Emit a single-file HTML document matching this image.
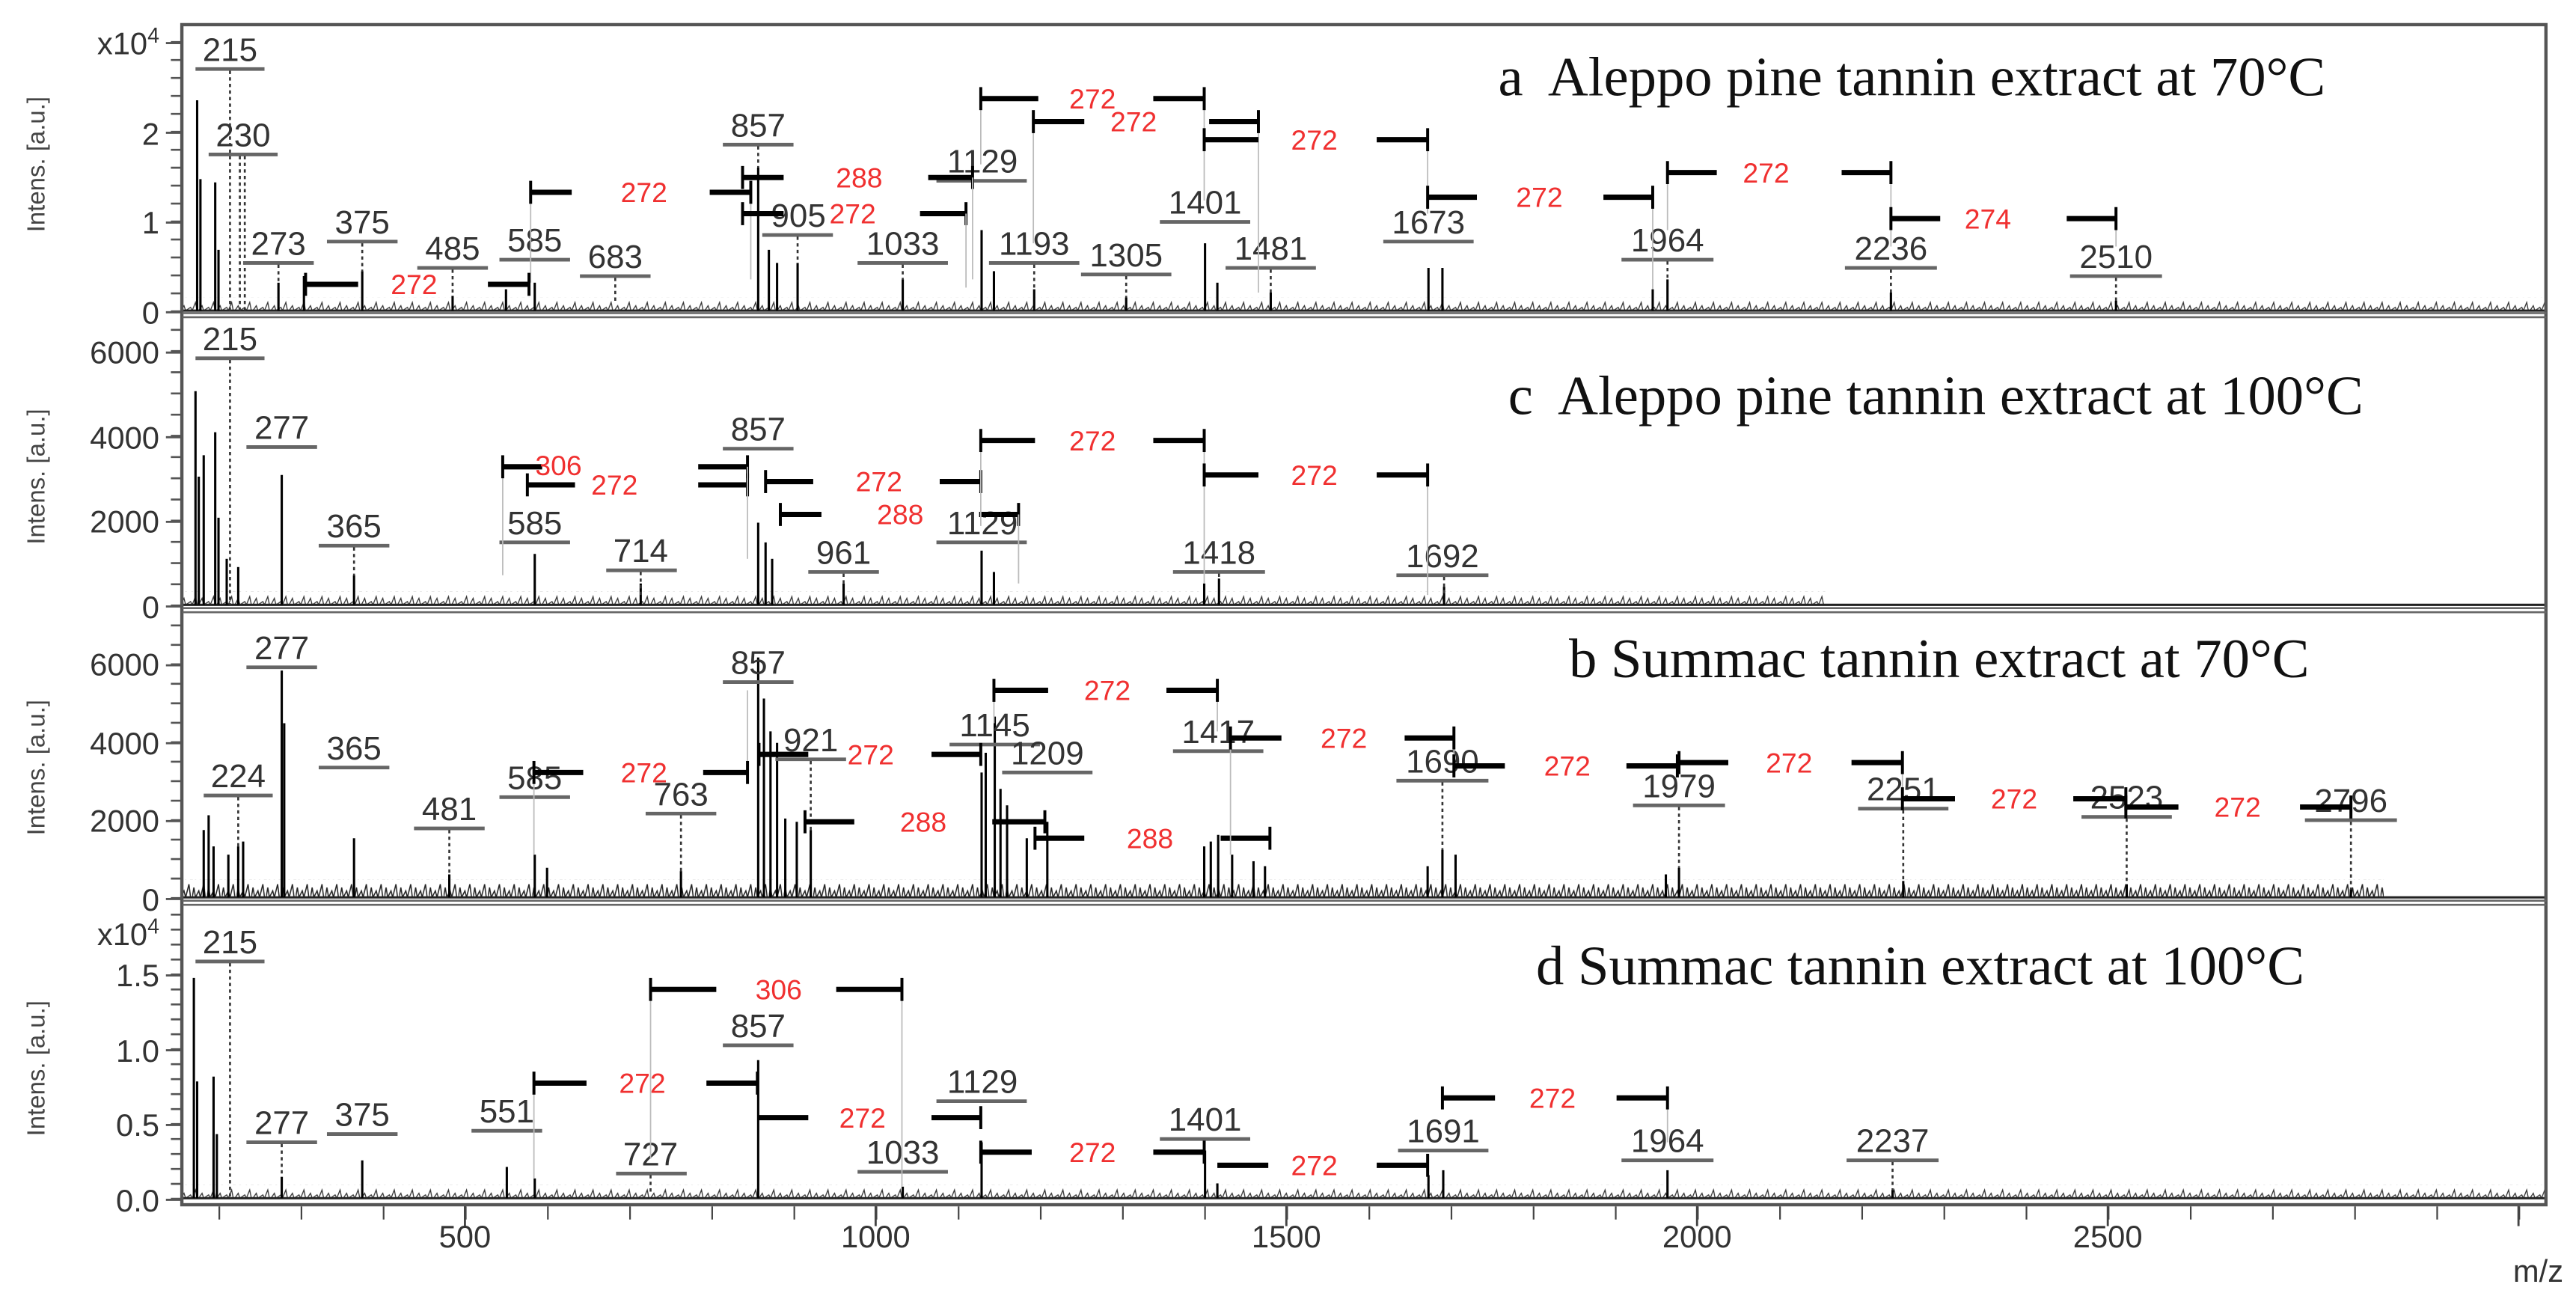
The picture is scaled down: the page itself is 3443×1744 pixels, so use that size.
<!DOCTYPE html>
<html><head><meta charset="utf-8"><style>
html,body{margin:0;padding:0;background:#fff;}
svg{display:block;}
.pl{font-family:"Liberation Sans",Arial,sans-serif;font-size:20px;fill:#333;text-anchor:middle;}
.rl{font-family:"Liberation Sans",Arial,sans-serif;font-size:17px;fill:#f03030;text-anchor:middle;}
.tk{font-family:"Liberation Sans",Arial,sans-serif;font-size:19px;fill:#333;text-anchor:end;}
.ax{font-family:"Liberation Sans",Arial,sans-serif;font-size:19px;fill:#333;text-anchor:middle;}
.yl{font-family:"Liberation Sans",Arial,sans-serif;font-size:15px;fill:#444;text-anchor:middle;}
.tt{font-family:"Liberation Serif","Times New Roman",serif;font-size:34px;fill:#111;}
.ub{stroke:#666;stroke-width:2.2;}
.dt{stroke:#333;stroke-width:1.2;stroke-dasharray:2 2;}
.pk{stroke:#000;stroke-width:1.4;}
.br{stroke:#000;stroke-width:3.2;}
.bt{stroke:#000;stroke-width:1.8;}
.gl{stroke:#bbb;stroke-width:0.8;}
</style></head><body>
<svg width="3443" height="1744" viewBox="0 0 1568 794" preserveAspectRatio="none" xmlns="http://www.w3.org/2000/svg">
<defs>
<pattern id="na" x="0" y="181" width="11" height="8" patternUnits="userSpaceOnUse">
<polyline points="0,8 2,5 3,8 6,6 7,8 9,3 10,8 11,8" fill="none" stroke="#333" stroke-width="0.6"/>
</pattern>
<pattern id="nc" x="0" y="360" width="11" height="8" patternUnits="userSpaceOnUse">
<polyline points="0,8 2,4 3,8 6,6 7,8 9,3 10,8 11,8" fill="none" stroke="#333" stroke-width="0.6"/>
</pattern>
<pattern id="nb" x="0" y="535" width="9" height="11" patternUnits="userSpaceOnUse">
<polyline points="0,11 1,5 2,11 4,7 5,11 7,3 8,11 9,11" fill="none" stroke="#222" stroke-width="0.7"/>
</pattern>
<pattern id="nd" x="0" y="721" width="11" height="8" patternUnits="userSpaceOnUse">
<polyline points="0,8 2,5 3,8 6,6 7,8 9,3 10,8 11,8" fill="none" stroke="#333" stroke-width="0.6"/>
</pattern>
</defs>
<rect x="0" y="0" width="1568" height="794" fill="#fff"/>

<text class="yl" transform="translate(27,100) rotate(-90)">Intens. [a.u.]</text>
<text class="yl" transform="translate(27,290) rotate(-90)">Intens. [a.u.]</text>
<text class="yl" transform="translate(27,467) rotate(-90)">Intens. [a.u.]</text>
<text class="yl" transform="translate(27,650) rotate(-90)">Intens. [a.u.]</text>

<g stroke="#555">
<line x1="107" y1="190" x2="107" y2="18" stroke-width="6" stroke-dasharray="1.2 9.72"/>
<line x1="107" y1="369" x2="107" y2="195" stroke-width="6" stroke-dasharray="1.2 11.7"/>
<line x1="107" y1="547" x2="107" y2="374" stroke-width="6" stroke-dasharray="1.2 10.65"/>
<line x1="107" y1="730" x2="107" y2="555" stroke-width="6" stroke-dasharray="1.2 7.9"/>
<g stroke-width="1.3">
<line x1="101" y1="190" x2="111" y2="190"/><line x1="101" y1="135.4" x2="111" y2="135.4"/><line x1="101" y1="80.8" x2="111" y2="80.8"/><line x1="101" y1="26.2" x2="111" y2="26.2"/>
<line x1="101" y1="369" x2="111" y2="369"/><line x1="101" y1="317.5" x2="111" y2="317.5"/><line x1="101" y1="266" x2="111" y2="266"/><line x1="101" y1="214.5" x2="111" y2="214.5"/>
<line x1="101" y1="547" x2="111" y2="547"/><line x1="101" y1="499.6" x2="111" y2="499.6"/><line x1="101" y1="452.2" x2="111" y2="452.2"/><line x1="101" y1="404.8" x2="111" y2="404.8"/>
<line x1="101" y1="730" x2="111" y2="730"/><line x1="101" y1="684.5" x2="111" y2="684.5"/><line x1="101" y1="639" x2="111" y2="639"/><line x1="101" y1="593.5" x2="111" y2="593.5"/>
</g></g>
<text class="tk" x="97" y="33">x10<tspan font-size="13" dy="-7">4</tspan></text>
<text class="tk" x="97" y="88">2</text><text class="tk" x="97" y="142">1</text><text class="tk" x="97" y="197">0</text>
<text class="tk" x="97" y="221">6000</text><text class="tk" x="97" y="273">4000</text><text class="tk" x="97" y="324">2000</text><text class="tk" x="97" y="376">0</text>
<text class="tk" x="97" y="411">6000</text><text class="tk" x="97" y="459">4000</text><text class="tk" x="97" y="506">2000</text><text class="tk" x="97" y="554">0</text>
<text class="tk" x="97" y="575">x10<tspan font-size="13" dy="-7">4</tspan></text>
<text class="tk" x="97" y="600">1.5</text><text class="tk" x="97" y="646">1.0</text><text class="tk" x="97" y="691">0.5</text><text class="tk" x="97" y="737">0.0</text>

<line x1="133" y1="738" x2="1550" y2="738" stroke="#444" stroke-width="8" stroke-dasharray="1 49"/>
<g stroke="#444" stroke-width="1.3">
<line x1="283" y1="733" x2="283" y2="746"/><line x1="533" y1="733" x2="533" y2="746"/><line x1="783" y1="733" x2="783" y2="746"/><line x1="1033" y1="733" x2="1033" y2="746"/><line x1="1283" y1="733" x2="1283" y2="746"/><line x1="1533" y1="733" x2="1533" y2="746"/>
</g>
<text class="ax" x="283" y="759">500</text><text class="ax" x="533" y="759">1000</text><text class="ax" x="783" y="759">1500</text><text class="ax" x="1033" y="759">2000</text><text class="ax" x="1283" y="759">2500</text>
<text class="ax" x="1545" y="780" font-size="15">m/z</text>

<!-- noise strips -->
<rect x="111" y="181" width="1439" height="8" fill="url(#na)"/>
<rect x="111" y="360" width="1000" height="8" fill="url(#nc)"/>
<rect x="111" y="535" width="1340" height="11" fill="url(#nb)"/>
<rect x="111" y="721" width="1439" height="8" fill="url(#nd)"/>
<g stroke="#222" stroke-width="1.4">
<line x1="111" y1="189" x2="1550" y2="189"/>
<line x1="111" y1="368" x2="1550" y2="368"/>
<line x1="111" y1="546" x2="1550" y2="546"/>
<line x1="111" y1="729" x2="1550" y2="729"/>
</g>

<rect x="110.7" y="15" width="1439" height="718" fill="none" stroke="#555" stroke-width="2"/>
<g stroke="#666" stroke-width="1.2">
<line x1="111" y1="190.5" x2="1550" y2="190.5"/><line x1="111" y1="193" x2="1550" y2="193"/>
<line x1="111" y1="370" x2="1550" y2="370"/><line x1="111" y1="372.5" x2="1550" y2="372.5"/>
<line x1="111" y1="548" x2="1550" y2="548"/><line x1="111" y1="550.5" x2="1550" y2="550.5"/>
</g>

<text class="tt" x="912" y="58">a&#160; Aleppo pine tannin extract at 70°C</text>
<text class="tt" x="918" y="252">c&#160; Aleppo pine tannin extract at 100°C</text>
<text class="tt" x="955" y="412">b Summac tannin extract at 70°C</text>
<text class="tt" x="935" y="599">d Summac tannin extract at 100°C</text>

<!-- PANEL A -->
<g class="pk">
<line x1="120" y1="189" x2="120" y2="61"/><line x1="122" y1="189" x2="122" y2="109"/>
<line x1="131" y1="189" x2="131" y2="111"/><line x1="133" y1="189" x2="133" y2="152"/>
<line x1="169.5" y1="189" x2="169.5" y2="172"/><line x1="185" y1="189" x2="185" y2="168"/><line x1="220.5" y1="189" x2="220.5" y2="165"/>
<line x1="275.5" y1="189" x2="275.5" y2="180"/><line x1="308" y1="189" x2="308" y2="176"/><line x1="325.5" y1="189" x2="325.5" y2="172"/>
<line x1="461.5" y1="189" x2="461.5" y2="102"/><line x1="468" y1="189" x2="468" y2="152"/><line x1="473" y1="189" x2="473" y2="160"/><line x1="485.5" y1="189" x2="485.5" y2="160"/>
<line x1="549.5" y1="189" x2="549.5" y2="170"/><line x1="597.5" y1="189" x2="597.5" y2="140"/><line x1="605" y1="189" x2="605" y2="165"/><line x1="629.5" y1="189" x2="629.5" y2="176"/>
<line x1="685.5" y1="189" x2="685.5" y2="181"/><line x1="733.5" y1="189" x2="733.5" y2="148"/><line x1="741" y1="189" x2="741" y2="172"/><line x1="773.5" y1="189" x2="773.5" y2="178"/>
<line x1="869.5" y1="189" x2="869.5" y2="163"/><line x1="878" y1="189" x2="878" y2="163"/><line x1="1006" y1="189" x2="1006" y2="176"/><line x1="1015" y1="189" x2="1015" y2="170"/>
<line x1="1151" y1="189" x2="1151" y2="178"/><line x1="1288" y1="189" x2="1288" y2="183"/>
</g>
<g>
<text class="pl" x="140" y="37">215</text><line class="ub" x1="119" y1="42" x2="161" y2="42"/><line class="dt" x1="140" y1="43" x2="140" y2="189"/>
<text class="pl" x="148" y="89">230</text><line class="ub" x1="127" y1="94" x2="169" y2="94"/><line class="dt" x1="146" y1="95" x2="146" y2="189"/><line class="dt" x1="149" y1="95" x2="149" y2="189"/>
<text class="pl" x="169.5" y="155">273</text><line class="ub" x1="148" y1="160" x2="191" y2="160"/><line class="dt" x1="169.5" y1="161" x2="169.5" y2="172"/>
<text class="pl" x="220.5" y="142">375</text><line class="ub" x1="199" y1="147" x2="242" y2="147"/><line class="dt" x1="220.5" y1="148" x2="220.5" y2="165"/>
<text class="pl" x="275.5" y="158">485</text><line class="ub" x1="254" y1="163" x2="297" y2="163"/><line class="dt" x1="275.5" y1="164" x2="275.5" y2="180"/>
<text class="pl" x="325.5" y="153">585</text><line class="ub" x1="304" y1="158" x2="347" y2="158"/>
<text class="pl" x="374.5" y="163">683</text><line class="ub" x1="353" y1="168" x2="396" y2="168"/><line class="dt" x1="374.5" y1="169" x2="374.5" y2="183"/>
<text class="pl" x="461.5" y="83">857</text><line class="ub" x1="440" y1="88" x2="483" y2="88"/><line class="dt" x1="461.5" y1="89" x2="461.5" y2="102"/>
<text class="pl" x="486" y="138">905</text><line class="ub" x1="464" y1="143" x2="507" y2="143"/><line class="dt" x1="485.5" y1="144" x2="485.5" y2="160"/>
<text class="pl" x="549.5" y="155">1033</text><line class="ub" x1="522" y1="160" x2="577" y2="160"/><line class="dt" x1="549.5" y1="161" x2="549.5" y2="170"/>
<text class="pl" x="598" y="105">1129</text><line class="ub" x1="570" y1="110" x2="625" y2="110"/>
<text class="pl" x="629.5" y="155">1193</text><line class="ub" x1="602" y1="160" x2="657" y2="160"/><line class="dt" x1="629.5" y1="161" x2="629.5" y2="176"/>
<text class="pl" x="685.5" y="162">1305</text><line class="ub" x1="658" y1="167" x2="713" y2="167"/><line class="dt" x1="685.5" y1="168" x2="685.5" y2="181"/>
<text class="pl" x="733.5" y="130">1401</text><line class="ub" x1="706" y1="135" x2="761" y2="135"/>
<text class="pl" x="773.5" y="158">1481</text><line class="ub" x1="746" y1="163" x2="801" y2="163"/><line class="dt" x1="773.5" y1="164" x2="773.5" y2="178"/>
<text class="pl" x="869.5" y="142">1673</text><line class="ub" x1="842" y1="147" x2="897" y2="147"/>
<text class="pl" x="1015" y="153">1964</text><line class="ub" x1="987" y1="158" x2="1043" y2="158"/><line class="dt" x1="1015" y1="159" x2="1015" y2="170"/>
<text class="pl" x="1151" y="158">2236</text><line class="ub" x1="1123" y1="163" x2="1179" y2="163"/><line class="dt" x1="1151" y1="164" x2="1151" y2="178"/>
<text class="pl" x="1288" y="163">2510</text><line class="ub" x1="1260" y1="168" x2="1316" y2="168"/><line class="dt" x1="1288" y1="169" x2="1288" y2="183"/>
</g>
<g>
<line class="gl" x1="323" y1="117" x2="323" y2="172"/><line class="gl" x1="457" y1="117" x2="457" y2="170"/>
<line class="bt" x1="323" y1="110" x2="323" y2="124"/><line class="br" x1="323" y1="117" x2="348" y2="117"/><text class="rl" x="392" y="123">272</text><line class="br" x1="432" y1="117" x2="457" y2="117"/><line class="bt" x1="457" y1="110" x2="457" y2="124"/>
<line class="bt" x1="452" y1="101" x2="452" y2="115"/><line class="br" x1="452" y1="108" x2="477" y2="108"/><text class="rl" x="523" y="114">288</text><line class="br" x1="565" y1="108" x2="592" y2="108"/><line class="bt" x1="592" y1="101" x2="592" y2="115"/>
<line class="gl" x1="592" y1="108" x2="592" y2="170"/>
<line class="bt" x1="452" y1="123" x2="452" y2="137"/><line class="br" x1="452" y1="130" x2="477" y2="130"/><text class="rl" x="519" y="136">272</text><line class="br" x1="560" y1="130" x2="588" y2="130"/><line class="bt" x1="588" y1="123" x2="588" y2="137"/>
<line class="gl" x1="588" y1="130" x2="588" y2="175"/>
<line class="gl" x1="597" y1="60" x2="597" y2="100"/><line class="gl" x1="733" y1="60" x2="733" y2="122"/>
<line class="bt" x1="597" y1="53" x2="597" y2="67"/><line class="br" x1="597" y1="60" x2="632" y2="60"/><text class="rl" x="665" y="66">272</text><line class="br" x1="702" y1="60" x2="733" y2="60"/><line class="bt" x1="733" y1="53" x2="733" y2="67"/>
<line class="gl" x1="629" y1="74" x2="629" y2="148"/><line class="gl" x1="766" y1="74" x2="766" y2="178"/>
<line class="bt" x1="629" y1="67" x2="629" y2="81"/><line class="br" x1="629" y1="74" x2="660" y2="74"/><text class="rl" x="690" y="80">272</text><line class="br" x1="736" y1="74" x2="766" y2="74"/><line class="bt" x1="766" y1="67" x2="766" y2="81"/>
<line class="gl" x1="869" y1="85" x2="869" y2="130"/>
<line class="bt" x1="733" y1="78" x2="733" y2="92"/><line class="br" x1="733" y1="85" x2="766" y2="85"/><text class="rl" x="800" y="91">272</text><line class="br" x1="838" y1="85" x2="869" y2="85"/><line class="bt" x1="869" y1="78" x2="869" y2="92"/>
<line class="gl" x1="1006" y1="120" x2="1006" y2="176"/>
<line class="bt" x1="869" y1="113" x2="869" y2="127"/><line class="br" x1="869" y1="120" x2="899" y2="120"/><text class="rl" x="937" y="126">272</text><line class="br" x1="976" y1="120" x2="1006" y2="120"/><line class="bt" x1="1006" y1="113" x2="1006" y2="127"/>
<line class="gl" x1="1015" y1="105" x2="1015" y2="140"/><line class="gl" x1="1151" y1="105" x2="1151" y2="150"/>
<line class="bt" x1="1015" y1="98" x2="1015" y2="112"/><line class="br" x1="1015" y1="105" x2="1045" y2="105"/><text class="rl" x="1075" y="111">272</text><line class="br" x1="1121" y1="105" x2="1151" y2="105"/><line class="bt" x1="1151" y1="98" x2="1151" y2="112"/>
<line class="gl" x1="1288" y1="133" x2="1288" y2="150"/>
<line class="bt" x1="1151" y1="126" x2="1151" y2="140"/><line class="br" x1="1151" y1="133" x2="1181" y2="133"/><text class="rl" x="1210" y="139">274</text><line class="br" x1="1258" y1="133" x2="1288" y2="133"/><line class="bt" x1="1288" y1="126" x2="1288" y2="140"/>
<line class="bt" x1="186" y1="166" x2="186" y2="180"/><line class="br" x1="186" y1="173" x2="218" y2="173"/><text class="rl" x="252" y="179">272</text><line class="br" x1="297" y1="173" x2="322" y2="173"/><line class="bt" x1="322" y1="166" x2="322" y2="180"/>
</g>

<!-- PANEL C -->
<g class="pk">
<line x1="119" y1="368" x2="119" y2="238"/><line x1="121" y1="368" x2="121" y2="290"/><line x1="124" y1="368" x2="124" y2="277"/>
<line x1="131" y1="368" x2="131" y2="263"/><line x1="133" y1="368" x2="133" y2="315"/><line x1="138" y1="368" x2="138" y2="340"/><line x1="145" y1="368" x2="145" y2="345"/>
<line x1="171.5" y1="368" x2="171.5" y2="289"/><line x1="215.5" y1="368" x2="215.5" y2="350"/><line x1="325.5" y1="368" x2="325.5" y2="337"/><line x1="390" y1="368" x2="390" y2="355"/>
<line x1="461.5" y1="368" x2="461.5" y2="318"/><line x1="466" y1="368" x2="466" y2="330"/><line x1="470" y1="368" x2="470" y2="340"/><line x1="513.5" y1="368" x2="513.5" y2="355"/>
<line x1="597.5" y1="368" x2="597.5" y2="335"/><line x1="605" y1="368" x2="605" y2="348"/><line x1="733" y1="368" x2="733" y2="355"/><line x1="742" y1="368" x2="742" y2="352"/><line x1="879" y1="368" x2="879" y2="357"/>
</g>
<g>
<text class="pl" x="140" y="213">215</text><line class="ub" x1="119" y1="218" x2="161" y2="218"/><line class="dt" x1="140" y1="219" x2="140" y2="368"/>
<text class="pl" x="171.5" y="267">277</text><line class="ub" x1="150" y1="272" x2="193" y2="272"/>
<text class="pl" x="215.5" y="327">365</text><line class="ub" x1="194" y1="332" x2="237" y2="332"/><line class="dt" x1="215.5" y1="333" x2="215.5" y2="350"/>
<text class="pl" x="325.5" y="325">585</text><line class="ub" x1="304" y1="330" x2="347" y2="330"/>
<text class="pl" x="390" y="342">714</text><line class="ub" x1="369" y1="347" x2="412" y2="347"/><line class="dt" x1="390" y1="348" x2="390" y2="362"/>
<text class="pl" x="461.5" y="268">857</text><line class="ub" x1="440" y1="273" x2="483" y2="273"/>
<text class="pl" x="513.5" y="343">961</text><line class="ub" x1="492" y1="348" x2="535" y2="348"/><line class="dt" x1="513.5" y1="349" x2="513.5" y2="355"/>
<text class="pl" x="598" y="325">1129</text><line class="ub" x1="570" y1="330" x2="625" y2="330"/>
<text class="pl" x="742" y="343">1418</text><line class="ub" x1="714" y1="348" x2="770" y2="348"/><line class="dt" x1="742" y1="349" x2="742" y2="352"/>
<text class="pl" x="878" y="345">1692</text><line class="ub" x1="850" y1="350" x2="906" y2="350"/><line class="dt" x1="879" y1="351" x2="879" y2="362"/>
</g>
<g>
<line class="gl" x1="306" y1="284" x2="306" y2="350"/>
<line class="bt" x1="306" y1="277" x2="306" y2="291"/><line class="br" x1="306" y1="284" x2="330" y2="284"/><text class="rl" x="340" y="289">306</text><line class="br" x1="425" y1="284" x2="455" y2="284"/><line class="bt" x1="455" y1="277" x2="455" y2="291"/>
<line class="bt" x1="321" y1="288" x2="321" y2="302"/><line class="br" x1="321" y1="295" x2="350" y2="295"/><text class="rl" x="374" y="301">272</text><line class="br" x1="425" y1="295" x2="455" y2="295"/><line class="bt" x1="455" y1="288" x2="455" y2="302"/>
<line class="gl" x1="455" y1="284" x2="455" y2="340"/>
<line class="bt" x1="466" y1="286" x2="466" y2="300"/><line class="br" x1="466" y1="293" x2="495" y2="293"/><text class="rl" x="535" y="299">272</text><line class="br" x1="572" y1="293" x2="597" y2="293"/><line class="bt" x1="597" y1="286" x2="597" y2="300"/>
<line class="bt" x1="475" y1="306" x2="475" y2="320"/><line class="br" x1="475" y1="313" x2="500" y2="313"/><text class="rl" x="548" y="319">288</text><line class="br" x1="596" y1="313" x2="620" y2="313"/><line class="bt" x1="620" y1="306" x2="620" y2="320"/>
<line class="gl" x1="620" y1="313" x2="620" y2="355"/>
<line class="gl" x1="597" y1="268" x2="597" y2="320"/><line class="gl" x1="733" y1="268" x2="733" y2="355"/>
<line class="bt" x1="597" y1="261" x2="597" y2="275"/><line class="br" x1="597" y1="268" x2="630" y2="268"/><text class="rl" x="665" y="274">272</text><line class="br" x1="702" y1="268" x2="733" y2="268"/><line class="bt" x1="733" y1="261" x2="733" y2="275"/>
<line class="gl" x1="869" y1="289" x2="869" y2="362"/>
<line class="bt" x1="733" y1="282" x2="733" y2="296"/><line class="br" x1="733" y1="289" x2="766" y2="289"/><text class="rl" x="800" y="295">272</text><line class="br" x1="838" y1="289" x2="869" y2="289"/><line class="bt" x1="869" y1="282" x2="869" y2="296"/>
</g>

<!-- PANEL B -->
<g class="pk">
<line x1="124" y1="546" x2="124" y2="505"/><line x1="127" y1="546" x2="127" y2="496"/><line x1="130" y1="546" x2="130" y2="515"/>
<line x1="139" y1="546" x2="139" y2="520"/><line x1="145" y1="546" x2="145" y2="515"/><line x1="148" y1="546" x2="148" y2="512"/>
<line x1="171.5" y1="546" x2="171.5" y2="408"/><line x1="173" y1="546" x2="173" y2="440"/><line x1="215.5" y1="546" x2="215.5" y2="510"/><line x1="273.5" y1="546" x2="273.5" y2="532"/>
<line x1="325.5" y1="546" x2="325.5" y2="520"/><line x1="333" y1="546" x2="333" y2="528"/><line x1="414.5" y1="546" x2="414.5" y2="530"/>
<line x1="461.5" y1="546" x2="461.5" y2="400"/><line x1="465" y1="546" x2="465" y2="425"/><line x1="469" y1="546" x2="469" y2="445"/><line x1="473" y1="546" x2="473" y2="452"/><line x1="478" y1="546" x2="478" y2="498"/><line x1="485" y1="546" x2="485" y2="500"/><line x1="493.5" y1="546" x2="493.5" y2="505"/>
<line x1="597.5" y1="546" x2="597.5" y2="470"/><line x1="600" y1="546" x2="600" y2="458"/><line x1="605.5" y1="546" x2="605.5" y2="436"/><line x1="609" y1="546" x2="609" y2="480"/><line x1="613" y1="546" x2="613" y2="490"/><line x1="625" y1="546" x2="625" y2="510"/><line x1="637.5" y1="546" x2="637.5" y2="500"/>
<line x1="733" y1="546" x2="733" y2="515"/><line x1="737" y1="546" x2="737" y2="512"/><line x1="741.5" y1="546" x2="741.5" y2="508"/><line x1="750" y1="546" x2="750" y2="520"/><line x1="763" y1="546" x2="763" y2="524"/><line x1="770" y1="546" x2="770" y2="527"/>
<line x1="869" y1="546" x2="869" y2="527"/><line x1="878" y1="546" x2="878" y2="517"/><line x1="886" y1="546" x2="886" y2="520"/>
<line x1="1014" y1="546" x2="1014" y2="532"/><line x1="1022" y1="546" x2="1022" y2="528"/><line x1="1158.5" y1="546" x2="1158.5" y2="536"/><line x1="1294.5" y1="546" x2="1294.5" y2="538"/><line x1="1431" y1="546" x2="1431" y2="541"/>
</g>
<g>
<text class="pl" x="171.5" y="401">277</text><line class="ub" x1="150" y1="406" x2="193" y2="406"/>
<text class="pl" x="145" y="479">224</text><line class="ub" x1="124" y1="484" x2="166" y2="484"/><line class="dt" x1="145" y1="485" x2="145" y2="515"/>
<text class="pl" x="215.5" y="462">365</text><line class="ub" x1="194" y1="467" x2="237" y2="467"/>
<text class="pl" x="273.5" y="499">481</text><line class="ub" x1="252" y1="504" x2="295" y2="504"/><line class="dt" x1="273.5" y1="505" x2="273.5" y2="532"/>
<text class="pl" x="325.5" y="480">585</text><line class="ub" x1="304" y1="485" x2="347" y2="485"/>
<text class="pl" x="414.5" y="490">763</text><line class="ub" x1="393" y1="495" x2="436" y2="495"/><line class="dt" x1="414.5" y1="496" x2="414.5" y2="530"/>
<text class="pl" x="461.5" y="410">857</text><line class="ub" x1="440" y1="415" x2="483" y2="415"/>
<text class="pl" x="493.5" y="457">921</text><line class="ub" x1="472" y1="462" x2="515" y2="462"/><line class="dt" x1="493.5" y1="463" x2="493.5" y2="505"/>
<text class="pl" x="605.5" y="448">1145</text><line class="ub" x1="578" y1="453" x2="633" y2="453"/>
<text class="pl" x="637.5" y="465">1209</text><line class="ub" x1="610" y1="470" x2="665" y2="470"/>
<text class="pl" x="741.5" y="452">1417</text><line class="ub" x1="714" y1="457" x2="769" y2="457"/>
<text class="pl" x="878" y="470">1690</text><line class="ub" x1="850" y1="475" x2="906" y2="475"/><line class="dt" x1="878" y1="476" x2="878" y2="517"/>
<text class="pl" x="1022" y="485">1979</text><line class="ub" x1="994" y1="490" x2="1050" y2="490"/><line class="dt" x1="1022" y1="491" x2="1022" y2="528"/>
<text class="pl" x="1158.5" y="487">2251</text><line class="ub" x1="1131" y1="492" x2="1186" y2="492"/><line class="dt" x1="1158.5" y1="493" x2="1158.5" y2="536"/>
<text class="pl" x="1294.5" y="492">2523</text><line class="ub" x1="1267" y1="497" x2="1322" y2="497"/><line class="dt" x1="1294.5" y1="498" x2="1294.5" y2="538"/>
<text class="pl" x="1431" y="494">2796</text><line class="ub" x1="1403" y1="499" x2="1459" y2="499"/><line class="dt" x1="1431" y1="500" x2="1431" y2="541"/>
</g>
<g>
<line class="gl" x1="325" y1="470" x2="325" y2="520"/><line class="gl" x1="455" y1="470" x2="455" y2="420"/>
<line class="bt" x1="325" y1="463" x2="325" y2="477"/><line class="br" x1="325" y1="470" x2="355" y2="470"/><text class="rl" x="392" y="476">272</text><line class="br" x1="428" y1="470" x2="455" y2="470"/><line class="bt" x1="455" y1="463" x2="455" y2="477"/>
<line class="bt" x1="462" y1="452" x2="462" y2="466"/><line class="br" x1="462" y1="459" x2="492" y2="459"/><text class="rl" x="530" y="465">272</text><line class="br" x1="567" y1="459" x2="597" y2="459"/><line class="bt" x1="597" y1="452" x2="597" y2="466"/>
<line class="bt" x1="490" y1="493" x2="490" y2="507"/><line class="br" x1="490" y1="500" x2="520" y2="500"/><text class="rl" x="562" y="506">288</text><line class="br" x1="604" y1="500" x2="636" y2="500"/><line class="bt" x1="636" y1="493" x2="636" y2="507"/>
<line class="bt" x1="630" y1="503" x2="630" y2="517"/><line class="br" x1="630" y1="510" x2="660" y2="510"/><text class="rl" x="700" y="516">288</text><line class="br" x1="743" y1="510" x2="773" y2="510"/><line class="bt" x1="773" y1="503" x2="773" y2="517"/>
<line class="gl" x1="605" y1="420" x2="605" y2="440"/><line class="gl" x1="741" y1="420" x2="741" y2="445"/>
<line class="bt" x1="605" y1="413" x2="605" y2="427"/><line class="br" x1="605" y1="420" x2="638" y2="420"/><text class="rl" x="674" y="426">272</text><line class="br" x1="710" y1="420" x2="741" y2="420"/><line class="bt" x1="741" y1="413" x2="741" y2="427"/>
<line class="gl" x1="749" y1="449" x2="749" y2="520"/><line class="gl" x1="885" y1="449" x2="885" y2="465"/>
<line class="bt" x1="749" y1="442" x2="749" y2="456"/><line class="br" x1="749" y1="449" x2="780" y2="449"/><text class="rl" x="818" y="455">272</text><line class="br" x1="855" y1="449" x2="885" y2="449"/><line class="bt" x1="885" y1="442" x2="885" y2="456"/>
<line class="bt" x1="885" y1="459" x2="885" y2="473"/><line class="br" x1="885" y1="466" x2="916" y2="466"/><text class="rl" x="954" y="472">272</text><line class="br" x1="990" y1="466" x2="1021" y2="466"/><line class="bt" x1="1021" y1="459" x2="1021" y2="473"/>
<line class="gl" x1="1158" y1="464" x2="1158" y2="486"/>
<line class="bt" x1="1022" y1="457" x2="1022" y2="471"/><line class="br" x1="1022" y1="464" x2="1052" y2="464"/><text class="rl" x="1089" y="470">272</text><line class="br" x1="1127" y1="464" x2="1158" y2="464"/><line class="bt" x1="1158" y1="457" x2="1158" y2="471"/>
<line class="bt" x1="1158" y1="479" x2="1158" y2="493"/><line class="br" x1="1158" y1="486" x2="1190" y2="486"/><text class="rl" x="1226" y="492">272</text><line class="br" x1="1262" y1="486" x2="1294" y2="486"/><line class="bt" x1="1294" y1="479" x2="1294" y2="493"/>
<line class="bt" x1="1294" y1="484" x2="1294" y2="498"/><line class="br" x1="1294" y1="491" x2="1326" y2="491"/><text class="rl" x="1362" y="497">272</text><line class="br" x1="1400" y1="491" x2="1431" y2="491"/><line class="bt" x1="1431" y1="484" x2="1431" y2="498"/>
</g>

<!-- PANEL D -->
<g class="pk">
<line x1="118" y1="729" x2="118" y2="595"/><line x1="120" y1="729" x2="120" y2="658"/><line x1="130" y1="729" x2="130" y2="655"/><line x1="132" y1="729" x2="132" y2="690"/>
<line x1="171.5" y1="729" x2="171.5" y2="716"/><line x1="220.5" y1="729" x2="220.5" y2="706"/><line x1="308.5" y1="729" x2="308.5" y2="710"/><line x1="325.5" y1="729" x2="325.5" y2="717"/>
<line x1="461.5" y1="729" x2="461.5" y2="645"/><line x1="549.5" y1="729" x2="549.5" y2="722"/><line x1="597.5" y1="729" x2="597.5" y2="695"/>
<line x1="733.5" y1="729" x2="733.5" y2="700"/><line x1="741" y1="729" x2="741" y2="720"/><line x1="869.5" y1="729" x2="869.5" y2="715"/><line x1="878.5" y1="729" x2="878.5" y2="712"/><line x1="1015" y1="729" x2="1015" y2="712"/><line x1="1152" y1="729" x2="1152" y2="724"/>
</g>
<g>
<text class="pl" x="140" y="580">215</text><line class="ub" x1="119" y1="585" x2="161" y2="585"/><line class="dt" x1="140" y1="586" x2="140" y2="729"/>
<text class="pl" x="171.5" y="690">277</text><line class="ub" x1="150" y1="695" x2="193" y2="695"/><line class="dt" x1="171.5" y1="696" x2="171.5" y2="716"/>
<text class="pl" x="220.5" y="685">375</text><line class="ub" x1="199" y1="690" x2="242" y2="690"/>
<text class="pl" x="308.5" y="683">551</text><line class="ub" x1="287" y1="688" x2="330" y2="688"/>
<text class="pl" x="396" y="709">727</text><line class="ub" x1="375" y1="714" x2="418" y2="714"/><line class="dt" x1="396" y1="715" x2="396" y2="726"/>
<text class="pl" x="461.5" y="631">857</text><line class="ub" x1="440" y1="636" x2="483" y2="636"/>
<text class="pl" x="549.5" y="708">1033</text><line class="ub" x1="522" y1="713" x2="577" y2="713"/>
<text class="pl" x="598" y="665">1129</text><line class="ub" x1="570" y1="670" x2="625" y2="670"/>
<text class="pl" x="733.5" y="688">1401</text><line class="ub" x1="706" y1="693" x2="761" y2="693"/>
<text class="pl" x="878.5" y="695">1691</text><line class="ub" x1="851" y1="700" x2="906" y2="700"/>
<text class="pl" x="1015" y="701">1964</text><line class="ub" x1="987" y1="706" x2="1043" y2="706"/>
<text class="pl" x="1152" y="701">2237</text><line class="ub" x1="1124" y1="706" x2="1180" y2="706"/><line class="dt" x1="1152" y1="707" x2="1152" y2="724"/>
</g>
<g>
<line class="gl" x1="396" y1="602" x2="396" y2="705"/><line class="gl" x1="549" y1="602" x2="549" y2="722"/>
<line class="bt" x1="396" y1="595" x2="396" y2="609"/><line class="br" x1="396" y1="602" x2="436" y2="602"/><text class="rl" x="474" y="608">306</text><line class="br" x1="509" y1="602" x2="549" y2="602"/><line class="bt" x1="549" y1="595" x2="549" y2="609"/>
<line class="gl" x1="325" y1="659" x2="325" y2="717"/>
<line class="bt" x1="325" y1="652" x2="325" y2="666"/><line class="br" x1="325" y1="659" x2="357" y2="659"/><text class="rl" x="391" y="665">272</text><line class="br" x1="430" y1="659" x2="461" y2="659"/><line class="bt" x1="461" y1="652" x2="461" y2="666"/>
<line class="br" x1="461" y1="680" x2="492" y2="680"/><text class="rl" x="525" y="686">272</text><line class="br" x1="567" y1="680" x2="597" y2="680"/><line class="bt" x1="597" y1="673" x2="597" y2="687"/>
<line class="bt" x1="597" y1="694" x2="597" y2="708"/><line class="br" x1="597" y1="701" x2="628" y2="701"/><text class="rl" x="665" y="707">272</text><line class="br" x1="702" y1="701" x2="733" y2="701"/><line class="bt" x1="733" y1="694" x2="733" y2="708"/>
<line class="br" x1="741" y1="709" x2="772" y2="709"/><text class="rl" x="800" y="715">272</text><line class="br" x1="838" y1="709" x2="869" y2="709"/><line class="bt" x1="869" y1="702" x2="869" y2="716"/>
<line class="gl" x1="1015" y1="668" x2="1015" y2="695"/>
<line class="bt" x1="878" y1="661" x2="878" y2="675"/><line class="br" x1="878" y1="668" x2="910" y2="668"/><text class="rl" x="945" y="674">272</text><line class="br" x1="984" y1="668" x2="1015" y2="668"/><line class="bt" x1="1015" y1="661" x2="1015" y2="675"/>
</g>
</svg>
</body></html>
